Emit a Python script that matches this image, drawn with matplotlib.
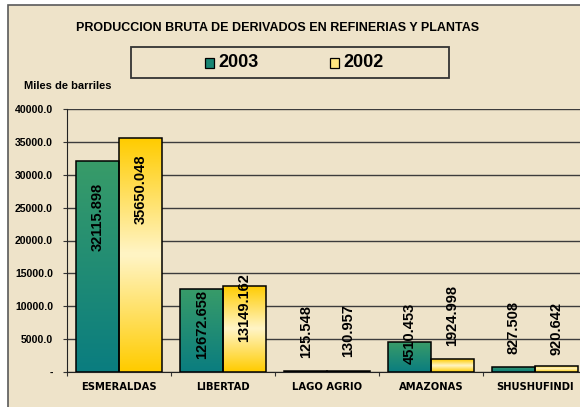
import numpy as np
import matplotlib
matplotlib.use("Agg")
import matplotlib.pyplot as plt
from matplotlib.patches import Rectangle
from matplotlib.ticker import FuncFormatter, MultipleLocator

plantas = ["ESMERALDAS", "LIBERTAD", "LAGO AGRIO", "AMAZONAS", "SHUSHUFINDI"]
v2003 = [32115.898, 12672.658, 125.548, 4510.453, 827.508]
v2002 = [35650.048, 13149.162, 130.957, 1924.998, 920.642]
# where each rotated value label sits (centre, in data units)
pos2003 = [23600, 7150, 6100, 5800, 6700]
pos2002 = [27800, 9750, 6250, 8600, 6600]

W, H = 580, 407
fig = plt.figure(figsize=(W / 100, H / 100), dpi=100)
fig.patch.set_facecolor("white")

# chart area (cut at right and bottom like the screenshot)
fig.add_artist(Rectangle((8 / W, -0.05), 1.2, 1.05 - 5 / H, transform=fig.transFigure,
                         facecolor="#EEE3C9", edgecolor="#5a5a5a", lw=1.2, zorder=-10))

ax = fig.add_axes([67 / W, 1 - 372 / H, 520 / W, 263 / H])
ax.set_facecolor("none")

x = np.arange(len(plantas))
bw = 0.41
green = np.array([[0.22, 0.61, 0.41], [0.04, 0.49, 0.50]])   # top, bottom
gold = np.array([1.0, 0.80, 0.0])
pale = np.array([1.0, 0.96, 0.78])


def grad_green(n=64):
    t = np.linspace(0, 1, n)[:, None]
    return green[0] * (1 - t) + green[1] * t


def grad_gold(n=64):
    t = np.linspace(0, 1, n)[:, None]
    w = 1 - np.abs(t - 0.5) * 2
    return gold * (1 - w) + pale * w


bars3 = ax.bar(x - bw / 2, v2003, bw, facecolor="none", edgecolor="black", lw=1.1, zorder=4)
bars2 = ax.bar(x + bw / 2, v2002, bw, facecolor="none", edgecolor="black", lw=1.1, zorder=4)

for bars, fn in ((bars3, grad_green), (bars2, grad_gold)):
    for b in bars:
        x0, y0 = b.get_x(), b.get_y()
        img = fn()[:, None, :]
        im = ax.imshow(img, extent=(x0, x0 + b.get_width(), y0, y0 + b.get_height()),
                       aspect="auto", origin="upper", zorder=3, interpolation="bilinear")
        im.set_clip_path(b)

for xi, v, p in zip(x - bw / 2, v2003, pos2003):
    ax.text(xi, p, f"{v:.3f}", rotation=90, ha="center", va="center",
            fontsize=10.5, fontweight="bold", family="Liberation Sans", zorder=5)
for xi, v, p in zip(x + bw / 2, v2002, pos2002):
    ax.text(xi, p, f"{v:.3f}", rotation=90, ha="center", va="center",
            fontsize=10.5, fontweight="bold", family="Liberation Sans", zorder=5)

ax.set_xlim(-0.5, len(plantas) - 0.5)
ax.set_ylim(0, 40000)
ax.yaxis.set_major_locator(MultipleLocator(5000))
ax.yaxis.set_major_formatter(FuncFormatter(lambda v, _: "-" if v == 0 else f"{v:.1f}"))
ax.grid(axis="y", color="#3c3c3c", lw=1.0, zorder=1)
ax.set_axisbelow(True)

ax.set_xticks(np.arange(-0.5, len(plantas), 1.0))
ax.set_xticklabels([])
ax.set_xticks(x, minor=True)
ax.set_xticklabels(plantas, minor=True, fontsize=7.2, fontweight="bold", family="DejaVu Sans")
ax.tick_params(axis="x", which="major", direction="out", length=3, color="#333")
ax.tick_params(axis="x", which="minor", length=0, pad=7)
ax.tick_params(axis="y", direction="out", length=3, pad=7, color="#333")
for t in ax.get_yticklabels():
    t.set_fontsize(7.6)
    t.set_fontweight("bold")
    t.set_family("Liberation Sans")

for s in ("top", "right"):
    ax.spines[s].set_visible(False)
ax.spines["left"].set_color("#222")
ax.spines["bottom"].set_color("#222")

fig.text(278 / W, 1 - 28 / H, "PRODUCCION BRUTA DE DERIVADOS EN REFINERIAS Y PLANTAS",
         ha="center", va="center", fontsize=9, fontweight="bold", family="Liberation Sans")
fig.text(24 / W, 1 - 86 / H, "Miles de barriles", ha="left", va="center",
         fontsize=8, fontweight="bold", family="Liberation Sans")

# legend box
fig.add_artist(Rectangle((131 / W, 1 - 78 / H), 318 / W, 31 / H, transform=fig.transFigure,
                         facecolor="none", edgecolor="#333", lw=1.3))
for mx, tx, fc, lab in ((205, 218, "#188573", "2003"), (330, 343, "#FFE680", "2002")):
    fig.add_artist(Rectangle((mx / W, 1 - 67.5 / H), 9 / W, 9 / H, transform=fig.transFigure,
                             facecolor=fc, edgecolor="black", lw=0.9))
    fig.text(tx / W, 1 - 62.5 / H, lab, ha="left", va="center", fontsize=13,
             fontweight="bold", family="Liberation Sans")

fig.savefig("out.png", dpi=100)
